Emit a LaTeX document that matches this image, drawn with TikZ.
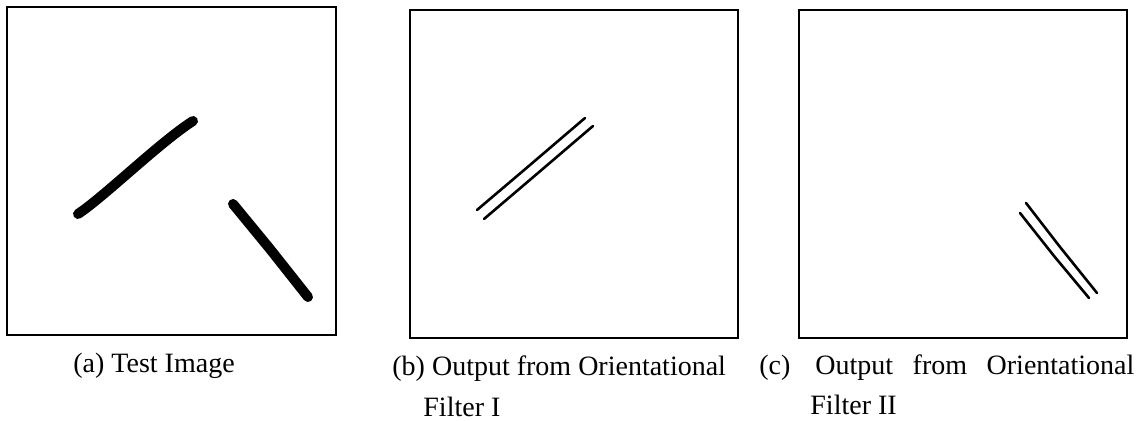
\documentclass[tikz,border=0pt]{standalone}
\usepackage{fontspec}
\setmainfont{Liberation Serif}
\begin{document}
\begin{tikzpicture}[x=0.5pt,y=-0.5pt,
    frame/.style={line width=1.25pt},
    stroke/.style={line width=5pt,line cap=round},
    edge/.style={line width=1.3pt,line cap=round},
    caption/.style={anchor=base west,inner sep=0pt,font=\fontsize{14}{16}\selectfont}]
    \useasboundingbox (0,0) rectangle (1144,421);
    % Imagen de prueba
    \draw[frame] (7,7) rectangle (336,335);
    \draw[stroke] (78,214) .. controls (105,196) and (160,142) .. (193,121);
    \draw[stroke] (233,204) -- (270,249) -- (308,297);
    \node[caption] (capa) at (73,373) {(a) Test Image};
    % Filtro I
    \draw[frame] (410,10) rectangle (738,338);
    \draw[edge] (477,210) -- (530,165) -- (585,118);
    \draw[edge] (484,219) -- (538,173) -- (593,126);
    \node[caption] (capb) at (392,376) {(b) Output from Orientational};
    \node[caption] (capb2) at (423,416) {Filter I};
    % Filtro II
    \draw[frame] (799,10) rectangle (1127,338);
    \draw[edge] (1026,203) -- (1060,247) -- (1097,293);
    \draw[edge] (1020,213) -- (1054,256) -- (1089,298);
    \node[caption] (capc) at (759,375) {(c)};
    \node[caption] (capc1) at (815,375) {\hbox to 159.5pt{Output\hfill from\hfill Orientational}};
    \node[caption] (capc2) at (810,415) {Filter II};
\end{tikzpicture}
\end{document}
